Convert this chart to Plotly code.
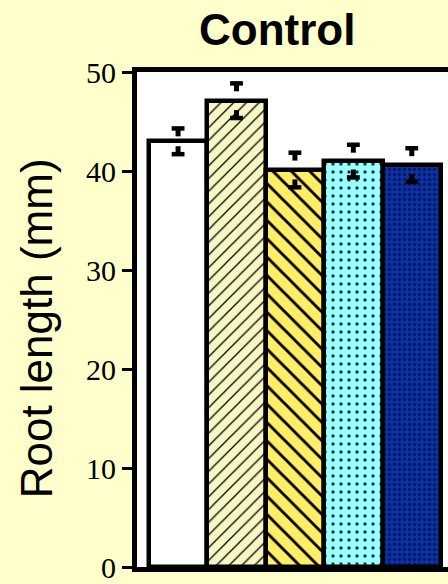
import plotly.graph_objects as go

categories = ["A", "B", "C", "D", "E"]
values = [43.0, 47.1, 40.1, 41.0, 40.6]
errors = [1.3, 1.75, 1.75, 1.65, 1.7]
y_ticks = [0, 10, 20, 30, 40, 50]

bg_colors = ["#FFFFFF", "#F7F7C4", "#FFEE66", "#99FFFF", "#0A33A8"]
fg_colors = ["#000000", "#000000", "#000000", "#1a3a3a", "#001860"]
shapes_pat = ["", "/", "\\", ".", "."]
pat_sizes = [8, 9, 13, 8, 5]
pat_sol = [0.1, 0.14, 0.22, 0.14, 0.35]

xs = list(range(len(categories)))

fig = go.Figure()
for i, c in enumerate(categories):
    fig.add_trace(go.Bar(
        x=[xs[i]], y=[values[i]], width=1,
        marker=dict(color=bg_colors[i],
                    line=dict(color="black", width=4.5),
                    pattern=dict(shape=shapes_pat[i], fgcolor=fg_colors[i],
                                 bgcolor=bg_colors[i], size=pat_sizes[i],
                                 solidity=pat_sol[i], fillmode="replace")),
        showlegend=False, hoverinfo="skip"))

cap_hw = 0.11
stem = 0.8
cap_x, cap_y, st_x, st_y = [], [], [], []
for i in xs:
    up = values[i] + errors[i]
    lo = values[i] - errors[i]
    for yv in (up, lo):
        cap_x += [i - cap_hw, i + cap_hw, None]
        cap_y += [yv, yv, None]
    st_x += [i, i, None, i, i, None]
    st_y += [up, up - stem, None, lo, lo + stem, None]

fig.add_trace(go.Scatter(x=cap_x, y=cap_y, mode="lines",
                         line=dict(color="black", width=4.5),
                         showlegend=False, hoverinfo="skip"))
fig.add_trace(go.Scatter(x=st_x, y=st_y, mode="lines",
                         line=dict(color="black", width=5),
                         showlegend=False, hoverinfo="skip"))

fig.update_layout(
    width=448, height=584,
    margin=dict(l=137, r=0, t=72, b=11),
    paper_bgcolor="#FFFFCC", plot_bgcolor="#FFFFFF",
    bargap=0, barmode="overlay",
    xaxis=dict(range=[-0.703, 4.62], showticklabels=False, ticks="",
               showgrid=False, zeroline=False, showline=True,
               linecolor="black", linewidth=5, mirror=True, fixedrange=True),
    yaxis=dict(range=[0, 50], tickvals=y_ticks, ticks="outside", ticklen=10,
               tickwidth=3, tickcolor="black", showgrid=False, zeroline=False,
               showline=True, linecolor="black", linewidth=5,
               ticklabeloverflow="allow",
               tickfont=dict(family="Liberation Serif", size=30, color="black")),
    annotations=[
        dict(text="<b>Control</b>", xref="paper", yref="paper", x=0.449, y=1.086,
             xanchor="center", yanchor="middle", showarrow=False,
             font=dict(family="Liberation Sans", size=44, color="black")),
        dict(text="Root length (mm)", xref="paper", yref="paper",
             x=-0.325, y=0.482, xanchor="center", yanchor="middle",
             textangle=-90, showarrow=False,
             font=dict(family="Liberation Sans", size=44, color="black")),
    ],
)
fig.write_html(
    "out.html",
    config={"displayModeBar": False},
    post_script="document.body.style.margin='0';document.body.style.overflow='hidden';",
)
